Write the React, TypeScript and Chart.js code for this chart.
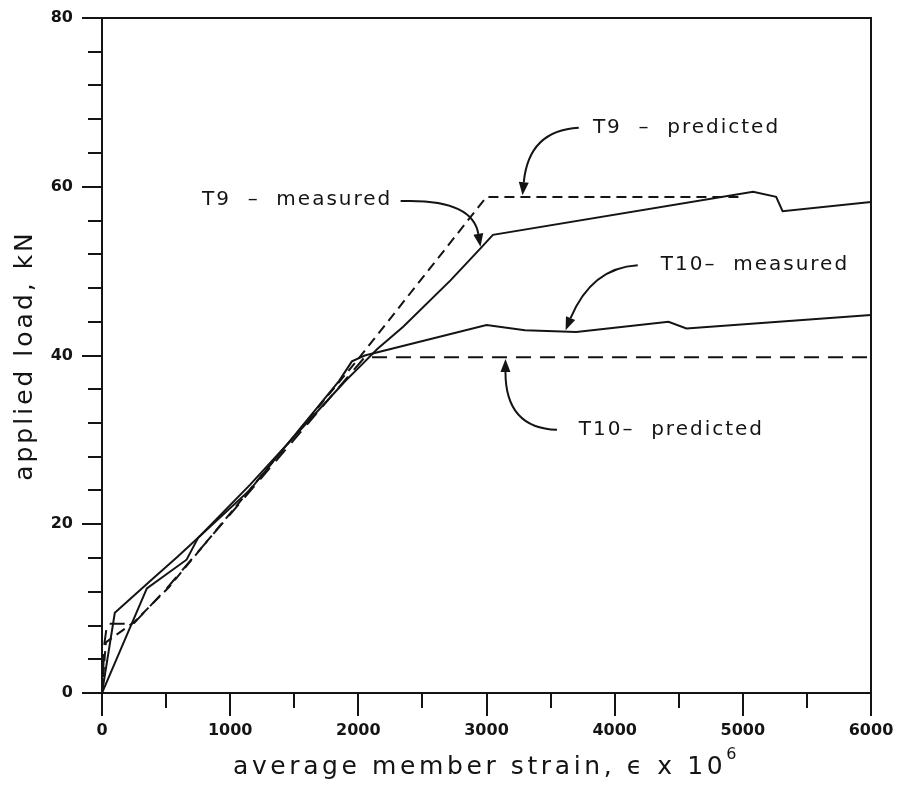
import React, { useEffect, useRef } from 'react';
import { Chart, registerables } from 'chart.js';

Chart.register(...registerables);

// ---- data (strain ×10^6, load kN) ----
const t9MeasuredStrain = [0, 350, 660, 750, 1156, 1900, 2000, 2150, 2350, 2719, 2953, 3050, 5080, 5260, 5310, 6000];
const t9MeasuredLoad = [0, 12.4, 15.8, 18.4, 24.7, 37.0, 38.5, 40.8, 43.4, 48.9, 52.7, 54.3, 59.4, 58.8, 57.1, 58.2];

const t10MeasuredStrain = [0, 100, 400, 585, 750, 1156, 1850, 1950, 2050, 3000, 3300, 3700, 4420, 4560, 6000];
const t10MeasuredLoad = [0, 9.5, 13.6, 16.1, 18.4, 24.1, 37.0, 39.3, 40.0, 43.6, 43.0, 42.8, 44.0, 43.2, 44.8];

const t9PredictedStrain = [0, 30, 250, 520, 2000, 3000, 5000];
const t9PredictedLoad = [0, 6.0, 8.4, 12.5, 39.6, 58.8, 58.8];

const t10PredictedStrain = [0, 20, 40, 245, 505, 2050, 6000];
const t10PredictedLoad = [0, 6.0, 8.2, 8.2, 12.4, 39.8, 39.8];

// ---- axes ----
const xMajorTicks = [0, 1000, 2000, 3000, 4000, 5000, 6000];
const xMinorTicks = [500, 1500, 2500, 3500, 4500, 5500];
const yMajorTicks = [0, 20, 40, 60, 80];
const yMinorTicks = [4, 8, 12, 16, 24, 28, 32, 36, 44, 48, 52, 56, 64, 68, 72, 76];

const xTitle = 'average member strain, \u03F5 x 10';
const xTitleSup = '6';
const yTitle = 'applied load, kN';

// ---- annotation labels (in data coordinates) ----
const labelTexts = ['T9  \u2013  predicted', 'T9  \u2013  measured', 'T10\u2013  measured', 'T10\u2013  predicted'];
const labelAnchors = [
  { x: 3830, y: 67.0 },
  { x: 780, y: 58.4 },
  { x: 4360, y: 50.7 },
  { x: 3720, y: 31.2 },
];
// arrows: start, control, tip
const arrowStarts = [
  { x: 3720, y: 67.0 },
  { x: 2330, y: 58.3 },
  { x: 4180, y: 50.7 },
  { x: 3550, y: 31.2 },
];
const arrowControls = [
  { x: 3330, y: 66.7 },
  { x: 2890, y: 58.6 },
  { x: 3820, y: 50.4 },
  { x: 3148, y: 31.4 },
];
const arrowTips = [
  { x: 3281, y: 59.0 },
  { x: 2953, y: 52.9 },
  { x: 3617, y: 43.0 },
  { x: 3148, y: 39.6 },
];

const INK = '#141414';
const FONT = '"DejaVu Sans", sans-serif';

const decorPlugin = {
  id: 'decor',
  afterDraw(chart: any) {
    const { ctx, chartArea: a, scales } = chart;
    const xs = scales.x;
    const ys = scales.y;
    ctx.save();
    ctx.strokeStyle = INK;
    ctx.fillStyle = INK;
    ctx.lineWidth = 2;
    ctx.setLineDash([]);
    ctx.strokeRect(a.left, a.top, a.right - a.left, a.bottom - a.top);

    // ticks
    ctx.beginPath();
    for (const v of yMajorTicks) {
      const p = Math.round(ys.getPixelForValue(v));
      ctx.moveTo(a.left - 20, p);
      ctx.lineTo(a.left, p);
    }
    for (const v of yMinorTicks) {
      const p = Math.round(ys.getPixelForValue(v));
      ctx.moveTo(a.left - 14, p);
      ctx.lineTo(a.left, p);
    }
    for (const v of xMajorTicks) {
      const p = Math.round(xs.getPixelForValue(v));
      ctx.moveTo(p, a.bottom);
      ctx.lineTo(p, a.bottom + 23);
    }
    for (const v of xMinorTicks) {
      const p = Math.round(xs.getPixelForValue(v));
      ctx.moveTo(p, a.bottom);
      ctx.lineTo(p, a.bottom + 15);
    }
    ctx.stroke();

    // tick labels
    ctx.font = 'bold 16px ' + FONT;
    ctx.textBaseline = 'middle';
    ctx.textAlign = 'right';
    for (const v of yMajorTicks) {
      ctx.fillText(String(v), a.left - 29, ys.getPixelForValue(v));
    }
    ctx.textAlign = 'center';
    for (const v of xMajorTicks) {
      ctx.fillText(String(v), xs.getPixelForValue(v), a.bottom + 38);
    }

    // axis titles
    ctx.font = '25px ' + FONT;
    (ctx as any).letterSpacing = '3.6px';
    ctx.textBaseline = 'middle';
    const mainW = ctx.measureText(xTitle).width;
    ctx.font = '16px ' + FONT;
    const supW = ctx.measureText(xTitleSup).width;
    const cx = (a.left + a.right) / 2;
    const startX = cx - (mainW + supW) / 2;
    ctx.font = '25px ' + FONT;
    ctx.textAlign = 'left';
    ctx.fillText(xTitle, startX, a.bottom + 74);
    ctx.font = '16px ' + FONT;
    ctx.fillText(xTitleSup, startX + mainW, a.bottom + 62);

    ctx.save();
    ctx.translate(25, (a.top + a.bottom) / 2);
    ctx.rotate(-Math.PI / 2);
    ctx.font = '25px ' + FONT;
    (ctx as any).letterSpacing = '3px';
    ctx.textAlign = 'center';
    ctx.fillText(yTitle, 0, 0);
    ctx.restore();

    // annotations
    ctx.font = '20px ' + FONT;
    (ctx as any).letterSpacing = '2px';
    ctx.textAlign = 'left';
    ctx.textBaseline = 'middle';
    labelTexts.forEach((t, i) => {
      ctx.fillText(t, xs.getPixelForValue(labelAnchors[i].x), ys.getPixelForValue(labelAnchors[i].y));
      const sx = xs.getPixelForValue(arrowStarts[i].x);
      const sy = ys.getPixelForValue(arrowStarts[i].y);
      const qx = xs.getPixelForValue(arrowControls[i].x);
      const qy = ys.getPixelForValue(arrowControls[i].y);
      const tx = xs.getPixelForValue(arrowTips[i].x);
      const ty = ys.getPixelForValue(arrowTips[i].y);
      const ang = Math.atan2(ty - qy, tx - qx);
      const headLen = 13;
      const headW = 5;
      const bx = tx - headLen * Math.cos(ang);
      const by = ty - headLen * Math.sin(ang);
      ctx.lineWidth = 2;
      ctx.beginPath();
      ctx.moveTo(sx, sy);
      ctx.quadraticCurveTo(qx, qy, bx, by);
      ctx.stroke();
      ctx.beginPath();
      ctx.moveTo(tx, ty);
      ctx.lineTo(bx + headW * Math.sin(ang), by - headW * Math.cos(ang));
      ctx.lineTo(bx - headW * Math.sin(ang), by + headW * Math.cos(ang));
      ctx.closePath();
      ctx.fill();
    });
    ctx.restore();
  },
};

function pts(xs: number[], ys: number[]) {
  return xs.map((x, i) => ({ x, y: ys[i] }));
}

export default function App() {
  const ref = useRef<HTMLCanvasElement | null>(null);
  useEffect(() => {
    if (!ref.current) return;
    const base = { borderColor: INK, borderWidth: 2, pointRadius: 0, tension: 0, fill: false };
    const chart = new Chart(ref.current, {
      type: 'line',
      data: {
        datasets: [
          { ...base, label: 'T9 measured', data: pts(t9MeasuredStrain, t9MeasuredLoad) },
          { ...base, label: 'T10 measured', data: pts(t10MeasuredStrain, t10MeasuredLoad) },
          { ...base, label: 'T9 predicted', data: pts(t9PredictedStrain, t9PredictedLoad), borderDash: [10, 6] },
          { ...base, label: 'T10 predicted', data: pts(t10PredictedStrain, t10PredictedLoad), borderDash: [15, 9] },
        ],
      },
      options: {
        responsive: false,
        animation: false,
        layout: { padding: { top: 18, right: 26, left: 0, bottom: 0 } },
        plugins: { legend: { display: false }, tooltip: { enabled: false } },
        scales: {
          x: {
            type: 'linear',
            min: 0,
            max: 6000,
            afterFit: (s: any) => { s.height = 94; },
            grid: { display: false, drawTicks: false },
            border: { display: false },
            ticks: { display: false },
          },
          y: {
            type: 'linear',
            min: 0,
            max: 80,
            afterFit: (s: any) => { s.width = 102; },
            grid: { display: false, drawTicks: false },
            border: { display: false },
            ticks: { display: false },
          },
        },
      },
      plugins: [decorPlugin],
    });
    return () => chart.destroy();
  }, []);
  return (
    <div style={{ position: 'absolute', left: 0, top: 0, width: 897, height: 787, background: '#fff' }}>
      <canvas ref={ref} width={897} height={787} style={{ display: 'block', width: 897, height: 787 }} />
    </div>
  );
}
